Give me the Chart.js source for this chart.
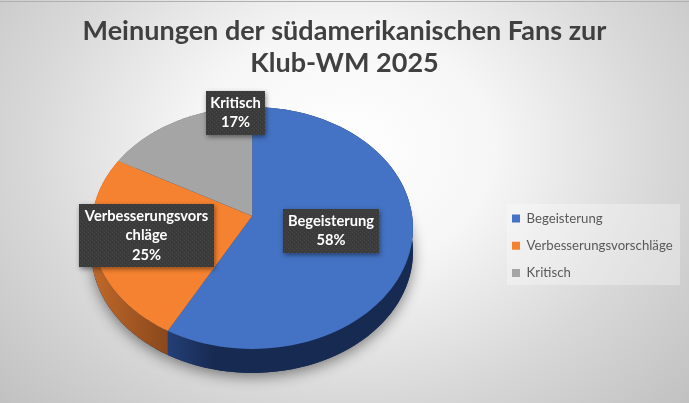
<!DOCTYPE html>
<html>
<head>
<meta charset="utf-8">
<title>Klub-WM 2025</title>
<script src="https://cdn.jsdelivr.net/npm/chart.js@4"></script>
<style>
  html, body { margin: 0; padding: 0; background: #fff; }
  #wrap { position: relative; width: 689px; height: 403px; overflow: hidden; }
</style>
</head>
<body>
<div id="wrap"><canvas id="fansChart" width="689" height="403"></canvas></div>
<script>
const categories = ['Begeisterung', 'Verbesserungsvorschläge', 'Kritisch'];
const values = [58, 25, 17];
const titleLines = ['Meinungen der südamerikanischen Fans zur', 'Klub-WM 2025'];

const sliceColors = ['#4472C4', '#F58230', '#A5A5A5'];
const wallColors = [['#25417A', '#172A52'], ['#C0682A', '#8A481C'], ['#777777', '#777777']];
// top left corner and size of each value label box
const labelBoxes = [[283, 209, 96, 44], [79, 204, 135, 63], [206, 91, 59, 44]];

const FONT = 'Lato, Carlito, sans-serif';
const TILT_Y = 119.8 / 160;   // squash of the disc
const PERSP = 0.099;          // near edge looks a bit bigger
const DEPTH = 24;

// angle on the flat pie -> point on the tilted disc
function project(arc, angle, dy) {
  const nx = Math.cos(angle), ny = Math.sin(angle);
  const w = 1 - PERSP * ny;
  return [arc.x + arc.outerRadius * nx / w, arc.y + arc.outerRadius * TILT_Y * ny / w + (dy || 0)];
}

function traceEdge(ctx, arc, dy, reverse) {
  const steps = 80;
  for (let i = 0; i <= steps; i++) {
    const t = reverse ? 1 - i / steps : i / steps;
    const p = project(arc, arc.startAngle + (arc.endAngle - arc.startAngle) * t, dy);
    ctx.lineTo(p[0], p[1]);
  }
}

function dotPattern(ctx) {
  const c = document.createElement('canvas');
  c.width = 4; c.height = 4;
  const g = c.getContext('2d');
  g.fillStyle = '#3B3B3B';
  g.fillRect(0, 0, 4, 4);
  g.fillStyle = '#484848';
  g.fillRect(0, 0, 1, 1);
  g.fillRect(2, 2, 1, 1);
  return ctx.createPattern(c, 'repeat');
}

function wrapLabel(text) {
  const lines = [];
  for (let i = 0; i < text.length; i += 17) lines.push(text.slice(i, i + 17));
  return lines;
}

const backdrop = {
  id: 'backdrop',
  beforeDraw(chart) {
    const ctx = chart.ctx;
    ctx.save();
    // elliptical glow, brightest above the pie
    ctx.save();
    ctx.translate(344, 150);
    ctx.scale(500, 400);
    const g = ctx.createRadialGradient(0, 0, 0, 0, 0, 1);
    g.addColorStop(0, '#FFFFFF');
    g.addColorStop(0.3, '#F6F6F6');
    g.addColorStop(0.63, '#D8D8D8');
    g.addColorStop(1, '#BCBCBC');
    ctx.fillStyle = g;
    ctx.fillRect(-1, -1, 2, 2);
    ctx.restore();
    ctx.fillStyle = '#B0B0B0';
    ctx.fillRect(0, 1, 689, 1);
    // legend panel
    ctx.fillStyle = 'rgba(255,255,255,0.3)';
    ctx.fillRect(507, 204, 173, 81);
    ctx.restore();
  },
  afterLayout(chart) {
    const lg = chart.legend;
    const w = lg.width, h = lg.height;
    lg.left = 498; lg.right = 498 + w;
    lg.top = 198; lg.bottom = 198 + h;
  }
};

const tiltedPie = {
  id: 'tiltedPie',
  beforeDatasetsDraw(chart) {
    const ctx = chart.ctx;
    const arcs = chart.getDatasetMeta(0).data;
    ctx.save();
    // soft shadow of the whole body
    ctx.shadowColor = 'rgba(0,0,0,0.45)';
    ctx.shadowBlur = 14;
    ctx.shadowOffsetY = 4;
    ctx.fillStyle = '#1A2E58';
    arcs.forEach(arc => {
      ctx.beginPath();
      traceEdge(ctx, arc, DEPTH, false);
      ctx.lineTo(arc.x, arc.y + DEPTH);
      ctx.closePath();
      ctx.fill();
    });
    ctx.shadowColor = 'transparent';
    // side wall
    arcs.forEach((arc, i) => {
      const a = project(arc, Math.PI / 2);
      const g = ctx.createLinearGradient(i === 0 ? a[0] - 88 : a[0] - 160, 0, i === 0 ? a[0] - 38 : a[0] - 85, 0);
      g.addColorStop(0, wallColors[i][0]);
      g.addColorStop(1, wallColors[i][1]);
      ctx.fillStyle = g;
      ctx.beginPath();
      traceEdge(ctx, arc, 0, false);
      traceEdge(ctx, arc, DEPTH, true);
      ctx.closePath();
      ctx.fill();
    });
    // top face
    arcs.forEach((arc, i) => {
      ctx.fillStyle = sliceColors[i];
      ctx.beginPath();
      ctx.moveTo(arc.x, arc.y);
      traceEdge(ctx, arc, 0, false);
      ctx.closePath();
      ctx.fill();
    });
    ctx.restore();
    return false;
  },
  // returning false above skips afterDatasetsDraw, so the labels go here
  afterDraw(chart) {
    const ctx = chart.ctx;
    const total = values.reduce((a, b) => a + b, 0);
    const pattern = dotPattern(ctx);
    ctx.save();
    categories.forEach((name, i) => {
      const [x, y, w, h] = labelBoxes[i];
      ctx.save();
      ctx.shadowColor = 'rgba(0,0,0,0.45)';
      ctx.shadowBlur = 5;
      ctx.shadowOffsetX = 1;
      ctx.shadowOffsetY = 2;
      ctx.fillStyle = pattern;
      ctx.fillRect(x, y, w, h);
      ctx.restore();
      const lines = wrapLabel(name).concat(Math.round(values[i] / total * 100) + '%');
      ctx.fillStyle = '#FFFFFF';
      ctx.font = 'bold 14.7px ' + FONT;
      ctx.textAlign = 'center';
      ctx.textBaseline = 'middle';
      const lh = 19.5;
      lines.forEach((t, k) => {
        ctx.fillText(t, x + w / 2, y + h / 2 + (k - (lines.length - 1) / 2) * lh);
      });
    });
    ctx.restore();
  }
};

new Chart(document.getElementById('fansChart'), {
  type: 'pie',
  data: {
    labels: categories,
    datasets: [{ data: values, backgroundColor: sliceColors, borderWidth: 0 }]
  },
  options: {
    responsive: false,
    animation: false,
    radius: 160,
    layout: { padding: { left: 9, right: 9, top: 0, bottom: 50 } },
    plugins: {
      title: {
        display: true,
        text: titleLines,
        color: '#404040',
        font: { family: FONT, size: 27, weight: 'bold', lineHeight: 32 / 27 },
        padding: { top: 15, bottom: 0 }
      },
      legend: {
        display: true,
        position: 'right',
        align: 'start',
        labels: {
          boxWidth: 8,
          boxHeight: 8,
          padding: 14,
          color: '#595959',
          font: { family: FONT, size: 13.2 }
        }
      },
      tooltip: { enabled: false }
    }
  },
  plugins: [backdrop, tiltedPie]
});
</script>
</body>
</html>
